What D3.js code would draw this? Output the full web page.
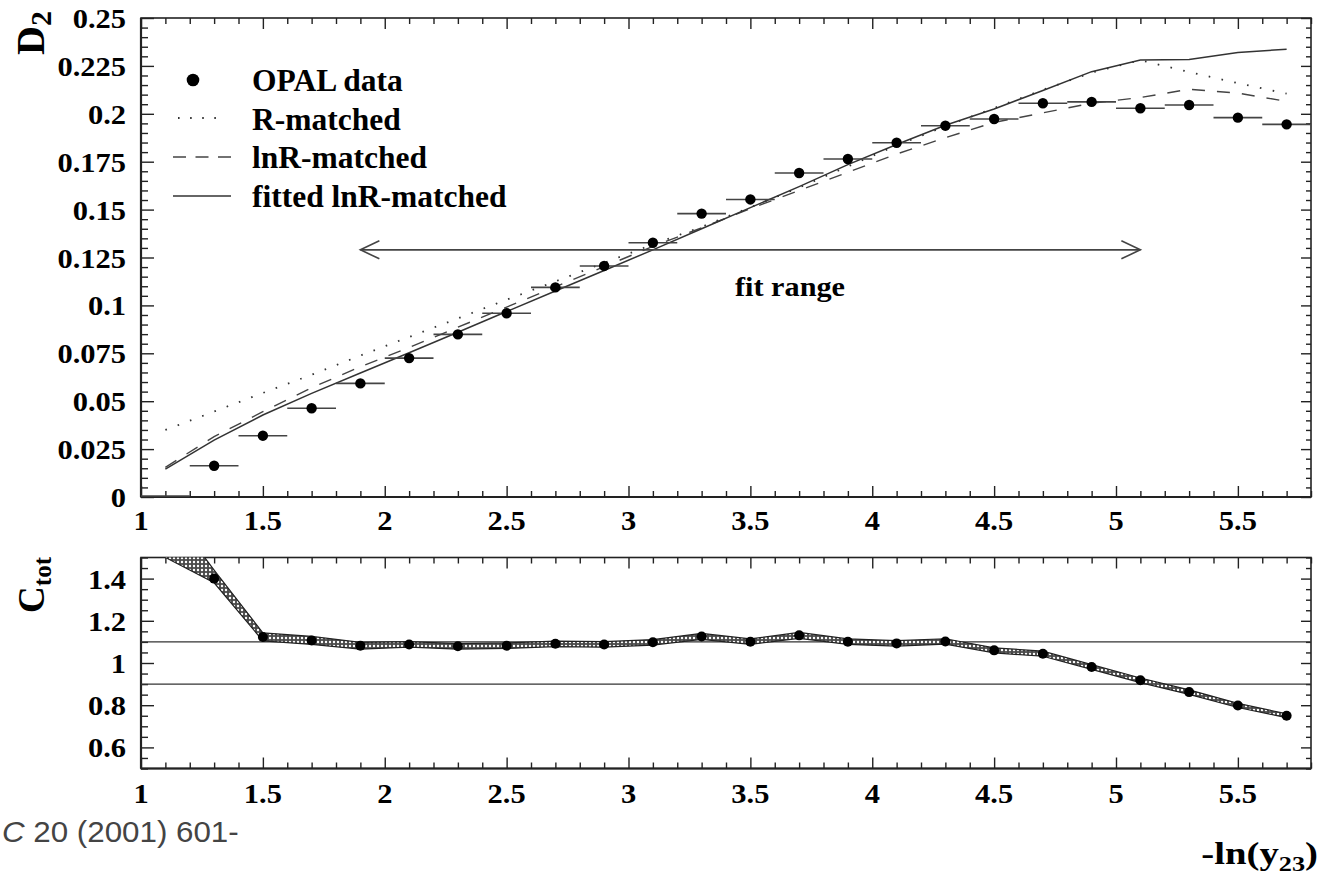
<!DOCTYPE html>
<html><head><meta charset="utf-8">
<script src="https://cdn.jsdelivr.net/npm/d3@7"></script>
<style>html,body{margin:0;padding:0;background:#fff;overflow:hidden}</style>
</head><body>
<script>
// ---------- data ----------
const binCenters = [1.1,1.3,1.5,1.7,1.9,2.1,2.3,2.5,2.7,2.9,3.1,3.3,3.5,3.7,3.9,4.1,4.3,4.5,4.7,4.9,5.1,5.3,5.5,5.7];
const binHalfWidth = 0.1;
const opalData     = [0,0.0163,0.032,0.0463,0.0593,0.0725,0.0849,0.0959,0.1094,0.1206,0.1327,0.1479,0.1553,0.1691,0.1764,0.1849,0.1938,0.1973,0.2055,0.2062,0.2029,0.2046,0.198,0.1945];
const rMatched     = [0.0350,0.0446,0.0543,0.0638,0.0738,0.0835,0.0932,0.1030,0.1125,0.1222,0.1318,0.1410,0.1512,0.1615,0.1725,0.1835,0.1935,0.2030,0.2125,0.2215,0.2280,0.2218,0.2160,0.2105];
const lnRMatched   = [0.0155,0.0315,0.0445,0.0570,0.0680,0.0780,0.0886,0.0991,0.1097,0.1202,0.1308,0.1405,0.1505,0.1600,0.1695,0.1790,0.1875,0.1955,0.2005,0.2055,0.2085,0.2128,0.2108,0.2065];
const fittedLnR    = [0.0145,0.0297,0.0428,0.0541,0.0647,0.0753,0.0860,0.0968,0.1075,0.1182,0.1290,0.1400,0.1510,0.1620,0.1735,0.1840,0.1940,0.2025,0.2122,0.2220,0.2281,0.2284,0.2320,0.2337];
const cTot   = [1.56,1.40,1.123,1.107,1.082,1.088,1.079,1.082,1.091,1.088,1.098,1.126,1.101,1.131,1.101,1.093,1.102,1.060,1.044,0.981,0.918,0.862,0.799,0.750];
const cLow   = [1.50,1.38,1.105,1.088,1.066,1.075,1.066,1.069,1.078,1.075,1.085,1.112,1.088,1.117,1.088,1.080,1.089,1.048,1.032,0.970,0.907,0.851,0.789,0.741];
const cHigh  = [1.75,1.44,1.143,1.126,1.098,1.101,1.092,1.095,1.104,1.101,1.111,1.140,1.114,1.145,1.114,1.106,1.115,1.072,1.056,0.992,0.929,0.873,0.809,0.759];
const cBandLines = [0.9, 1.1];
const fitRange = [1.9, 5.1];
const fitRangeY = 0.129;
const xTickValues = [1,1.5,2,2.5,3,3.5,4,4.5,5,5.5];
const xTickLabels = ["1","1.5","2","2.5","3","3.5","4","4.5","5","5.5"];
const yTopTickValues = [0,0.025,0.05,0.075,0.1,0.125,0.15,0.175,0.2,0.225,0.25];
const yTopTickLabels = ["0","0.025","0.05","0.075","0.1","0.125","0.15","0.175","0.2","0.225","0.25"];
const yBotTickValues = [0.6,0.8,1,1.2,1.4];
const yBotTickLabels = ["0.6","0.8","1","1.2","1.4"];
const legendLabels = ["OPAL data","R-matched","lnR-matched","fitted lnR-matched"];

// ---------- layout ----------
const W = 1339, H = 893;
const SERIF = "'Liberation Serif','Times New Roman',serif";
const SANS = "'Liberation Sans',Arial,sans-serif";
const INK = "#222";
const x = d3.scaleLinear().domain([1, 5.8]).range([141, 1311]);
const yT = d3.scaleLinear().domain([0, 0.25]).range([497, 18]);
const yB = d3.scaleLinear().domain([0.5, 1.5]).range([768.5, 557.5]);

const svg = d3.select("body").append("svg").attr("width", W).attr("height", H)
  .style("background", "#fff").style("display","block");
const defs = svg.append("defs");
defs.append("clipPath").attr("id","clipTop").append("rect")
  .attr("x", x(1)).attr("y", yT(0.25)).attr("width", x(5.8)-x(1)).attr("height", yT(0)-yT(0.25));
defs.append("clipPath").attr("id","clipBot").append("rect")
  .attr("x", x(1)).attr("y", yB(1.5)).attr("width", x(5.8)-x(1)).attr("height", yB(0.5)-yB(1.5));
const pat = defs.append("pattern").attr("id","hatch").attr("patternUnits","userSpaceOnUse")
  .attr("width",4).attr("height",4);
pat.append("rect").attr("width",4).attr("height",4).attr("fill","#4a4a4a");
pat.append("circle").attr("cx",2).attr("cy",2).attr("r",1.2).attr("fill","#fff");

function stext(g, px, py, str, size, anchor, sx) {
  return g.append("text")
    .attr("transform", `translate(${px},${py}) scale(${sx},1)`)
    .attr("font-family", SERIF).attr("font-weight", "bold")
    .attr("font-size", size).attr("text-anchor", anchor).attr("fill", "#000")
    .text(str);
}

const rng = (a, b, s) => d3.range(Math.round((b - a) / s) + 1).map(i => +(a + i * s).toFixed(4));
const xMinor = rng(1, 5.8, 0.1).filter(v => !xTickValues.some(m => Math.abs(m - v) < 1e-6));
const yTopMinor = rng(0, 0.25, 0.005).filter(v => !yTopTickValues.some(m => Math.abs(m - v) < 1e-6));
const yBotMinor = rng(0.5, 1.5, 0.05).filter(v => !yBotTickValues.some(m => Math.abs(m - v) < 1e-6));

function ticks(g, axisFn, scale, vals, size, tx, ty) {
  const a = g.append("g").attr("transform", `translate(${tx},${ty})`)
    .call(axisFn(scale).tickValues(vals).tickSize(size).tickFormat(""));
  a.select(".domain").remove();
  a.selectAll("line").attr("stroke", INK).attr("stroke-width", 1.4);
}

function panel(ys, yMajor, yMinorVals) {
  const g = svg.append("g");
  const top = ys.range()[1], bot = ys.range()[0];
  ticks(g, d3.axisBottom, x, xTickValues, -11, 0, bot);
  ticks(g, d3.axisBottom, x, xMinor, -6, 0, bot);
  ticks(g, d3.axisTop, x, xTickValues, -11, 0, top);
  ticks(g, d3.axisTop, x, xMinor, -6, 0, top);
  ticks(g, d3.axisLeft, ys, yMajor, -13, x(1), 0);
  ticks(g, d3.axisLeft, ys, yMinorVals, -7, x(1), 0);
  ticks(g, d3.axisRight, ys, yMajor, -10, x(5.8), 0);
  ticks(g, d3.axisRight, ys, yMinorVals, -5, x(5.8), 0);
  g.append("rect").attr("x", x(1)).attr("y", top).attr("width", x(5.8) - x(1)).attr("height", bot - top)
    .attr("fill", "none").attr("stroke", INK).attr("stroke-width", 1.6);
  g.append("line").attr("x1", x(1)).attr("x2", x(5.8)).attr("y1", bot).attr("y2", bot)
    .attr("stroke", INK).attr("stroke-width", 2.2);
  g.append("line").attr("x1", x(1)).attr("x2", x(1)).attr("y1", top).attr("y2", bot)
    .attr("stroke", INK).attr("stroke-width", 2.2);
  return g;
}

// ---------- top panel ----------
panel(yT, yTopTickValues, yTopMinor);
const plotT = svg.append("g").attr("clip-path", "url(#clipTop)");

const lineT = vals => d3.line().x((d, i) => x(binCenters[i])).y(d => yT(d))(vals);
plotT.append("path").attr("d", lineT(rMatched)).attr("fill","none").attr("stroke","#333")
  .attr("stroke-width",1.8).attr("stroke-dasharray","1.6,11.5");
plotT.append("path").attr("d", lineT(lnRMatched)).attr("fill","none").attr("stroke","#444")
  .attr("stroke-width",1.4).attr("stroke-dasharray","13,12");
plotT.append("path").attr("d", lineT(fittedLnR)).attr("fill","none").attr("stroke","#333")
  .attr("stroke-width",1.5);

// error bars + markers
plotT.selectAll(".eb").data(opalData).join("line")
  .attr("x1", (d, i) => x(binCenters[i] - binHalfWidth)).attr("x2", (d, i) => x(binCenters[i] + binHalfWidth))
  .attr("y1", d => yT(d) - (d === 0 ? 1 : 0)).attr("y2", d => yT(d) - (d === 0 ? 1 : 0))
  .attr("stroke", "#444").attr("stroke-width", 1.6);
plotT.selectAll(".mk").data(opalData.map((d, i) => [binCenters[i], d]).filter(p => p[1] > 0)).join("circle")
  .attr("cx", p => x(p[0])).attr("cy", p => yT(p[1])).attr("r", 5.2).attr("fill", "#000");

// fit range arrow
const fy = yT(fitRangeY);
const gArrow = svg.append("g").attr("stroke", "#444").attr("stroke-width", 1.6).attr("fill", "none");
gArrow.append("line").attr("x1", x(fitRange[0])).attr("x2", x(fitRange[1])).attr("y1", fy).attr("y2", fy);
gArrow.append("path").attr("d", `M${x(fitRange[0]) + 19},${fy - 9}L${x(fitRange[0])},${fy}L${x(fitRange[0]) + 19},${fy + 9}`);
gArrow.append("path").attr("d", `M${x(fitRange[1]) - 19},${fy - 9}L${x(fitRange[1])},${fy}L${x(fitRange[1]) - 19},${fy + 9}`);
stext(svg, 790, 296, "fit range", 28, "middle", 1.08);

// tick labels
xTickValues.forEach((v, i) => stext(svg, x(v), 530, xTickLabels[i], 26.5, "middle", 1.15));
yTopTickValues.forEach((v, i) => stext(svg, 126, yT(v) + 10, yTopTickLabels[i], 26.5, "end", 1.15));

// D2 title
const tD = svg.append("text").attr("transform", "translate(44,11) rotate(-90)")
  .attr("font-family", SERIF).attr("font-weight", "bold").attr("font-size", 40).attr("text-anchor", "end");
tD.append("tspan").text("D");
tD.append("tspan").attr("font-size", 30).attr("dy", 7).text("2");

// legend
const lg = svg.append("g");
lg.append("circle").attr("cx", 193).attr("cy", 80).attr("r", 6.3).attr("fill", "#000");
lg.append("line").attr("x1", 178).attr("x2", 224).attr("y1", 118).attr("y2", 118)
  .attr("stroke", "#333").attr("stroke-width", 1.8).attr("stroke-dasharray", "1.6,10.5");
lg.append("line").attr("x1", 173).attr("x2", 231).attr("y1", 157).attr("y2", 157)
  .attr("stroke", "#444").attr("stroke-width", 1.4).attr("stroke-dasharray", "13,9.5");
lg.append("line").attr("x1", 173).attr("x2", 231).attr("y1", 196).attr("y2", 196)
  .attr("stroke", "#333").attr("stroke-width", 1.5);
legendLabels.forEach((s, i) => stext(lg, 252, 91 + i * 38.7, s, 31.5, "start", 1.0));

// ---------- bottom panel ----------
panel(yB, yBotTickValues, yBotMinor);
const plotB = svg.append("g").attr("clip-path", "url(#clipBot)");
cBandLines.forEach(v => plotB.append("line").attr("x1", x(1)).attr("x2", x(5.8))
  .attr("y1", yB(v)).attr("y2", yB(v)).attr("stroke", "#333").attr("stroke-width", 1.4));
const band = d3.area().x((d, i) => x(binCenters[i])).y0((d, i) => yB(cLow[i])).y1((d, i) => yB(cHigh[i]));
plotB.append("path").attr("d", band(cTot)).attr("fill", "url(#hatch)").attr("stroke", "#222").attr("stroke-width", 1.2);
plotB.selectAll(".cm").data(cTot).join("circle")
  .attr("cx", (d, i) => x(binCenters[i])).attr("cy", d => yB(d)).attr("r", 5).attr("fill", "#000");

xTickValues.forEach((v, i) => stext(svg, x(v), 803, xTickLabels[i], 26.5, "middle", 1.15));
yBotTickValues.forEach((v, i) => stext(svg, 126, yB(v) + 10, yBotTickLabels[i], 26.5, "end", 1.15));

const tC = svg.append("text").attr("transform", "translate(44,557) rotate(-90)")
  .attr("font-family", SERIF).attr("font-weight", "bold").attr("font-size", 37).attr("text-anchor", "end");
tC.append("tspan").text("C");
tC.append("tspan").attr("font-size", 25).attr("dy", 7).text("tot");

// x title
const tX = svg.append("text").attr("transform", "translate(1318,864) scale(1.25,1)")
  .attr("font-family", SERIF).attr("font-weight", "bold").attr("font-size", 31).attr("text-anchor", "end");
tX.append("tspan").text("-ln(y");
tX.append("tspan").attr("font-size", 21).attr("dy", 7).text("23");
tX.append("tspan").attr("dy", -7).text(")");

// citation fragment
const tCit = svg.append("text").attr("transform", "translate(2,842) scale(1.08,1)")
  .attr("font-family", SANS).attr("font-size", 29).attr("fill", "#444");
tCit.append("tspan").attr("font-style", "italic").text("C");
tCit.append("tspan").text(" 20 (2001) 601-");
</script>
</body></html>
